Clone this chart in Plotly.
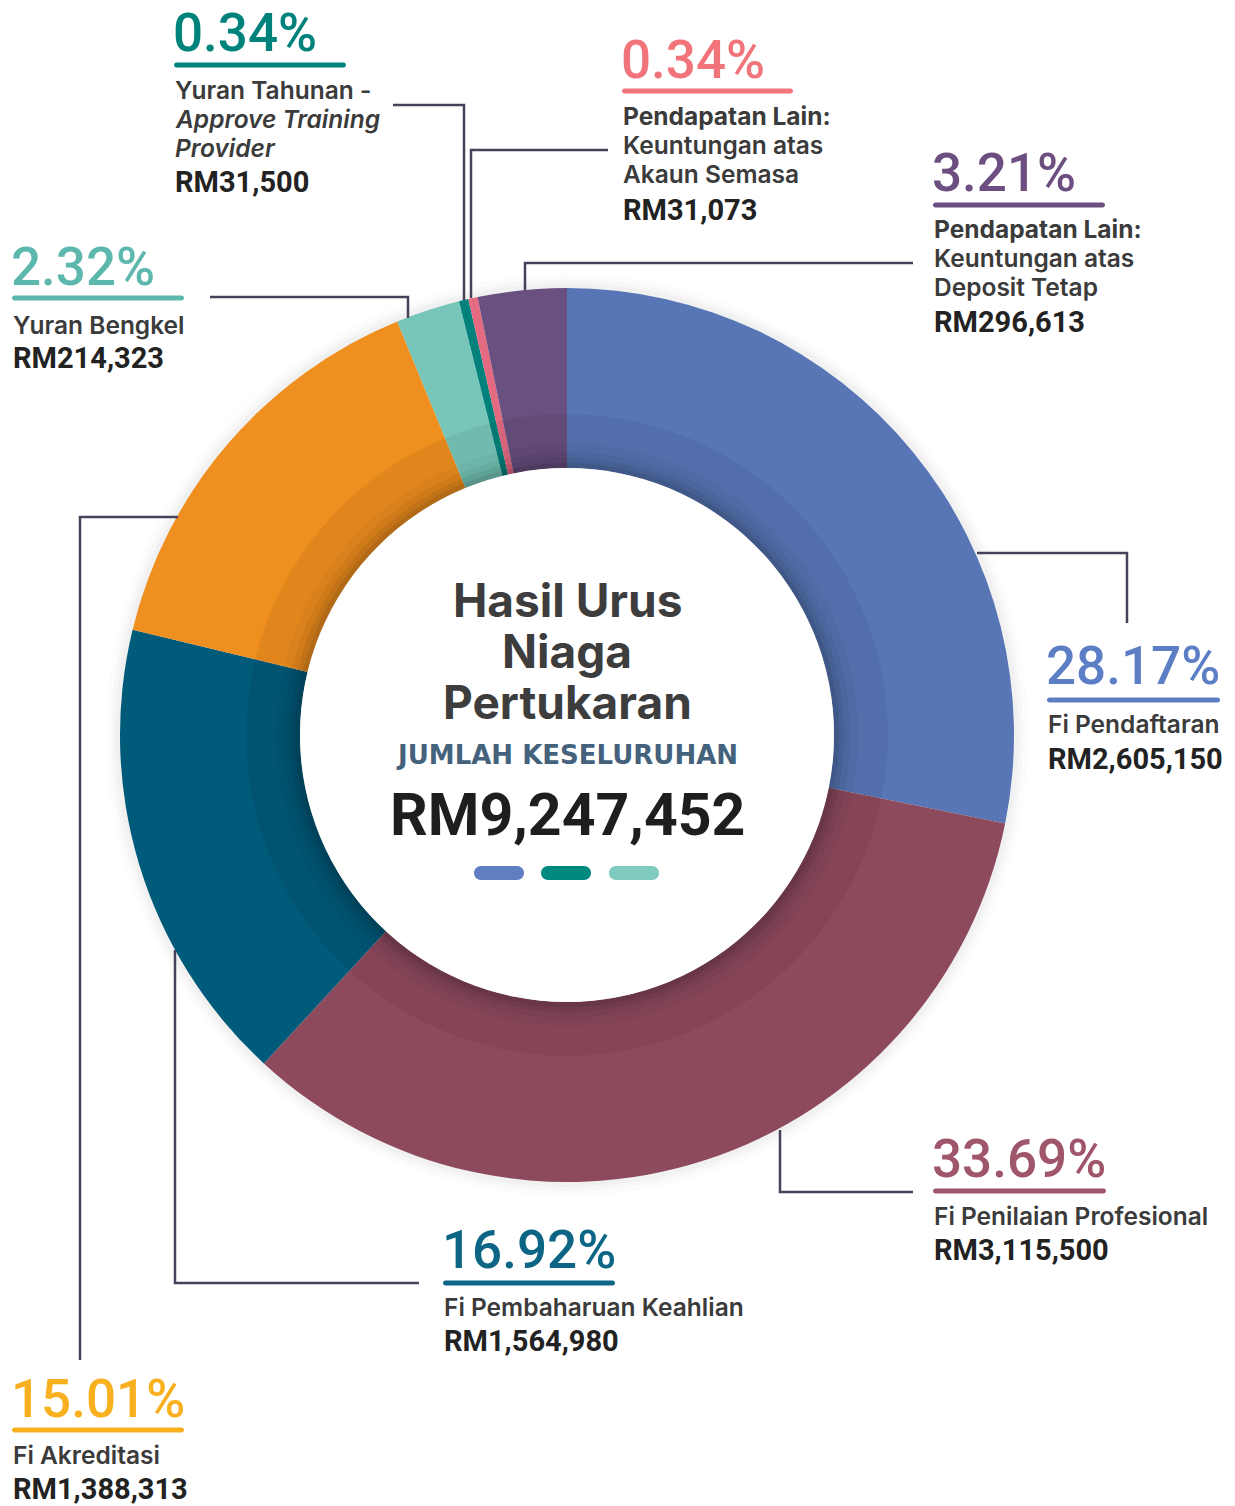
import plotly.graph_objects as go

# ---------------- data ----------------
categories = [
    "Fi Pendaftaran",
    "Fi Penilaian Profesional",
    "Fi Pembaharuan Keahlian",
    "Fi Akreditasi",
    "Yuran Bengkel",
    "Yuran Tahunan - Approve Training Provider",
    "Pendapatan Lain: Keuntungan atas Akaun Semasa",
    "Pendapatan Lain: Keuntungan atas Deposit Tetap",
]
values_rm = [2605150, 3115500, 1564980, 1388313, 214323, 31500, 31073, 296613]
percent_labels = ["28.17%", "33.69%", "16.92%", "15.01%", "2.32%", "0.34%", "0.34%", "3.21%"]
value_labels = ["RM2,605,150", "RM3,115,500", "RM1,564,980", "RM1,388,313",
                "RM214,323", "RM31,500", "RM31,073", "RM296,613"]
desc_labels = [
    "Fi Pendaftaran",
    "Fi Penilaian Profesional",
    "Fi Pembaharuan Keahlian",
    "Fi Akreditasi",
    "Yuran Bengkel",
    "Yuran Tahunan -<br><i>Approve Training</i><br><i>Provider</i>",
    "<b>Pendapatan Lain:</b><br>Keuntungan atas<br>Akaun Semasa",
    "<b>Pendapatan Lain:</b><br>Keuntungan atas<br>Deposit Tetap",
]
total_label = "RM9,247,452"
center_title = ["Hasil Urus", "Niaga", "Pertukaran"]
center_sub = "JUMLAH KESELURUHAN"

# ---------------- styles ----------------
slice_colors = ["#5876b6", "#8e4a5d", "#005a7a", "#ef8f1f", "#78c6b9", "#00817b", "#e46a82", "#6a5080"]
pct_colors = ["#5b7ec4", "#a0566a", "#0c6585", "#f8b01f", "#5cb8ad", "#00827c", "#f07479", "#6c4f80"]

W, H = 1235, 1506
CX, CY = 567, 735            # pixel centre of the donut
R_OUT, R_IN, R_BAND = 447, 267, 321


def dom(r):
    return dict(x=[(CX - r) / W, (CX + r) / W],
                y=[(H - CY - r) / H, (H - CY + r) / H])


fig = go.Figure()

fig.add_trace(go.Pie(
    labels=categories, values=values_rm, sort=False, direction="clockwise",
    rotation=0, hole=R_IN / R_OUT, domain=dom(R_OUT),
    marker=dict(colors=slice_colors, line=dict(width=0)),
    textinfo="none", showlegend=False, hoverinfo="label+value+percent",
))
# darker inner band of the ring
fig.add_trace(go.Pie(
    labels=categories, values=values_rm, sort=False, direction="clockwise",
    rotation=0, hole=R_IN / R_BAND, domain=dom(R_BAND),
    marker=dict(colors=["rgba(0,0,0,0.06)"] * len(values_rm), line=dict(width=0)),
    textinfo="none", showlegend=False, hoverinfo="skip",
))

# invisible pixel axes
fig.update_xaxes(range=[0, W], visible=False, domain=[0, 1], fixedrange=True)
fig.update_yaxes(range=[H, 0], visible=False, domain=[0, 1], fixedrange=True)
fig.add_trace(go.Scatter(x=[1], y=[1], mode="markers", marker=dict(opacity=0),
                         showlegend=False, hoverinfo="skip"))

shapes = []

# soft outer halo (below pie)
for dr, a in [(14, 0.012), (9, 0.018), (5, 0.025)]:
    r = R_OUT + dr
    shapes.append(dict(type="circle", xref="x", yref="y", layer="below",
                       x0=CX - r, x1=CX + r, y0=CY - r, y1=CY + r,
                       fillcolor=f"rgba(0,0,0,{a})", line=dict(width=0)))

# inner shadow + white centre circle
for dr, a in [(24, 0.03), (16, 0.045), (10, 0.06), (5, 0.08)]:
    r = R_IN + dr
    shapes.append(dict(type="circle", xref="x", yref="y", layer="above",
                       x0=CX - r, x1=CX + r, y0=CY - r, y1=CY + r,
                       fillcolor=f"rgba(0,0,0,{a})", line=dict(width=0)))
shapes.append(dict(type="circle", xref="x", yref="y", layer="above",
                   x0=CX - R_IN, x1=CX + R_IN, y0=CY - R_IN, y1=CY + R_IN,
                   fillcolor="white", line=dict(width=0)))


def pill(x0, x1, yc, h):
    r = h / 2
    k = 0.5523 * r
    return (f"M {x0 + r},{yc - r} L {x1 - r},{yc - r} "
            f"C {x1 - r + k},{yc - r} {x1},{yc - k} {x1},{yc} "
            f"C {x1},{yc + k} {x1 - r + k},{yc + r} {x1 - r},{yc + r} "
            f"L {x0 + r},{yc + r} "
            f"C {x0 + r - k},{yc + r} {x0},{yc + k} {x0},{yc} "
            f"C {x0},{yc - k} {x0 + r - k},{yc - r} {x0 + r},{yc - r} Z")


# centre pills
for (x0, x1), c in zip([(474, 524), (541, 591), (609, 659)], ["#5f7fc2", "#00897f", "#7fcbbf"]):
    shapes.append(dict(type="path", xref="x", yref="y", layer="above",
                       path=pill(x0, x1, 873, 14), fillcolor=c, line=dict(width=0)))

# leader lines
LINE_C = "#47425a"
leaders = [
    [(977, 553), (1127, 553), (1127, 623)],
    [(780, 1130), (780, 1192), (913, 1192)],
    [(175, 950), (175, 1283), (419, 1283)],
    [(178, 517), (80, 517), (80, 1360)],
    [(210, 297), (408, 297), (408, 318)],
    [(393, 105), (464, 105), (464, 300)],
    [(608, 150), (471, 150), (471, 298)],
    [(913, 263), (525, 263), (525, 290)],
]
for pts in leaders:
    p = "M " + " L ".join(f"{x},{y}" for x, y in pts)
    shapes.append(dict(type="path", xref="x", yref="y", layer="above", path=p,
                       line=dict(color=LINE_C, width=2.5)))

# label blocks: (x, pct_y, underline_y, underline_x1, desc_y_first, value_y)
blocks = [
    (1047, 666, 700, 1220, 724, 759),
    (933, 1159, 1191, 1106, 1216, 1250),
    (443, 1250, 1283, 615, 1307, 1341),
    (12, 1399, 1430, 184, 1455, 1489),
    (12, 267, 298, 184, 325, 358),
    (174, 33, 65, 346, 90, 182),
    (622, 60, 91, 793, 116, 210),
    (933, 173, 205, 1105, 229, 322),
]

annotations = []
PCT_FONT = "Roboto"
TXT_FONT = "Inter"
LINE_H = 29.2
for i, (x, py, uy, ux1, dy, vy) in enumerate(blocks):
    annotations.append(dict(x=x - 3, y=py, xref="x", yref="y", xanchor="left", yanchor="middle",
                            text=percent_labels[i], showarrow=False,
                            font=dict(family=PCT_FONT, size=53, color=pct_colors[i], weight=500)))
    shapes.append(dict(type="path", xref="x", yref="y", layer="above",
                       path=pill(x, ux1, uy, 5), fillcolor=pct_colors[i], line=dict(width=0)))
    lines = desc_labels[i].split("<br>")
    for j, ln in enumerate(lines):
        annotations.append(dict(x=x - 1, y=dy + j * LINE_H, xref="x", yref="y",
                                xanchor="left", yanchor="middle", text=ln, showarrow=False,
                                font=dict(family=TXT_FONT, size=24.5, color="#3b3b3b", weight=600)))
    annotations.append(dict(x=x - 1, y=vy, xref="x", yref="y", xanchor="left", yanchor="middle",
                            text=value_labels[i], showarrow=False,
                            font=dict(family=PCT_FONT, size=29, color="#222222", weight=700)))

# centre text
for txt, y in zip(center_title, [600, 651, 702]):
    annotations.append(dict(x=CX, y=y, xref="x", yref="y", xanchor="center", yanchor="middle",
                            text=txt, showarrow=False,
                            font=dict(family=TXT_FONT, size=46, color="#3d3d3d", weight=700)))
annotations.append(dict(x=CX, y=755, xref="x", yref="y", xanchor="center", yanchor="middle",
                        text=center_sub, showarrow=False,
                        font=dict(family="DejaVu Sans", size=26, color="#45627d", weight=700)))
annotations.append(dict(x=CX, y=814, xref="x", yref="y", xanchor="center", yanchor="middle",
                        text=total_label, showarrow=False,
                        font=dict(family=PCT_FONT, size=59, color="#1e1e1e", weight=700)))

fig.update_layout(
    width=W, height=H, margin=dict(l=0, r=0, t=0, b=0),
    paper_bgcolor="white", plot_bgcolor="rgba(0,0,0,0)",
    shapes=shapes, annotations=annotations, showlegend=False,
)

fig.write_html(
    "out.html",
    config={"displayModeBar": False},
    post_script="document.body.style.margin='0';document.body.style.padding='0';"
                "document.body.style.overflow='hidden';",
)
